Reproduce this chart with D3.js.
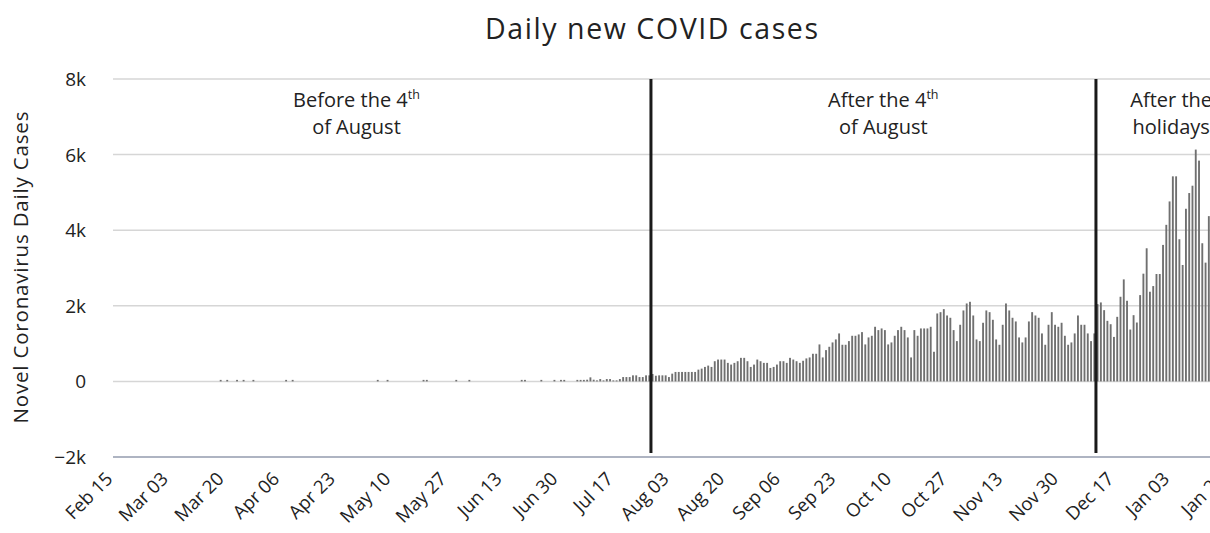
<!DOCTYPE html>
<html>
<head>
<meta charset="utf-8">
<script src="https://cdn.jsdelivr.net/npm/d3@7/dist/d3.min.js"></script>
<style>
  html, body { margin: 0; padding: 0; background: #fff; }
  svg { display: block; }
</style>
</head>
<body>
<svg id="chart" width="1210" height="533"></svg>
<script>
// ---------------- DATA ----------------
const startDate = "2020-02-15";      // first day of the daily series
const tickLabels = ["Feb 15","Mar 03","Mar 20","Apr 06","Apr 23","May 10","May 27","Jun 13","Jun 30","Jul 17",
                    "Aug 03","Aug 20","Sep 06","Sep 23","Oct 10","Oct 27","Nov 13","Nov 30","Dec 17","Jan 03","Jan 20"];
const tickDates = ["2020-02-15","2020-03-03","2020-03-20","2020-04-06","2020-04-23","2020-05-10","2020-05-27",
                   "2020-06-13","2020-06-30","2020-07-17","2020-08-03","2020-08-20","2020-09-06","2020-09-23",
                   "2020-10-10","2020-10-27","2020-11-13","2020-11-30","2020-12-17","2021-01-03","2021-01-20"];
const yTicks = [-2000, 0, 2000, 4000, 6000, 8000];
const yTickLabels = ["\u22122k", "0", "2k", "4k", "6k", "8k"];
const markerDates = ["2020-08-03", "2020-12-17"];
const annotationDates = ["2020-05-05", "2020-10-13", "2021-01-09"];
const annotationLine1 = [["Before the 4", "th"], ["After the 4", "th"], ["After the", ""]];
const annotationLine2 = ["of August", "of August", "holidays"];

// daily new cases, one value per day starting at startDate
const dailyCases = [
  // Feb 15 - Mar 23 (d0-37)
  0,0,0,0,0,0,0,0,0,0, 0,0,0,0,0,0,0,0,0,0, 0,0,0,0,0,0,0,0,0,0, 0,0,0,0,0,0,0,0,
  // d38-49
  40,0,40,0,0,40,0,40,0,0,40,0,
  // d50-69
  0,0,0,0,0,0,0,0,40,0,40,0,0,0,0,0,0,0,0,0,
  // d70-99
  0,0,0,0,0,0,0,0,0,0, 0,0,0,0,0,0,40,0,0,40, 0,0,0,0,0,0,0,0,0,0,
  // d100-149
  40,40,0,0,0,0,0,0,0,0, 40,0,0,0,40,0,0,0,0,0, 0,0,0,0,0,0,0,0,0,0,
  40,40,0,0,0,0,40,0,0,0, 40,0,40,40,0,0,0,40,40,40,
  // d150-169
  45,107,45,27,62,27,62,62,27,27, 62,115,115,115,160,160,115,115,160,160,
  // d170-215 (from Aug 03)
  196,150,160,160,160,115,205,250,250,250, 250,250,250,250,311,338,383,418,383,534,
  578,578,578,490,445,490,534,623,623,534, 383,445,578,534,490,490,356,383,445,534,
  534,490,623,578,534,490,
  // d216-305
  546,608,634,731,731,978,634,828,916,1031, 1110,1269,969,969,1066,1207,1207,1242,1304,978,
  1163,1207,1445,1357,1401,1357,978,1031,1207,1357, 1445,1357,1163,634,1357,1207,1401,1401,1401,1445,
  784,1797,1832,1912,1744,1683,1357,1066,1498,1877, 2062,2106,1744,1110,1066,1551,1877,1832,1630,1110,
  969,1498,2062,1877,1683,1586,1163,1031,1163,1586, 1832,1744,1683,1269,969,1498,1832,1498,1445,1551,
  1207,969,1031,1269,1744,1498,1498,1269,1066,1269,
  // d306-340 (from Dec 17)
  2044,2089,1885,1602,1513,1177,1708,2239,2699,2133, 1372,1752,1558,2283,2850,3522,2372,2522,2841,2841,
  3611,4142,4761,5425,5425,3761,3080,4567,4983,5177, 6133,5841,3655,3142,4372
];

// ---------------- LAYOUT ----------------
const FONT = "'Open Sans', 'Noto Sans', sans-serif";
const svg = d3.select("#chart");
const parse = d3.utcParse("%Y-%m-%d");
const start = parse(startDate);
const days = dailyCases.map((v, i) => ({ date: d3.utcDay.offset(start, i), value: v }));

const x = d3.scaleUtc()
  .domain([parse(tickDates[0]), parse(tickDates[tickDates.length - 1])])
  .range([94.7, 1207.2]);
const y = d3.scaleLinear().domain([-2000, 8000]).range([457, 79]);
const plotLeft = 113, plotRight = 1215;

// grid lines
svg.append("g").selectAll("line").data(yTicks).join("line")
  .attr("x1", plotLeft).attr("x2", plotRight)
  .attr("y1", d => y(d)).attr("y2", d => y(d))
  .attr("stroke", d => d === -2000 ? "#aeb4c2" : "#d6d6d6")
  .attr("stroke-width", d => d === -2000 ? 2 : 1.5);

// y tick labels
svg.append("g").selectAll("text").data(yTicks).join("text")
  .attr("x", 86).attr("y", d => y(d) + 7)
  .attr("text-anchor", "end")
  .attr("font-family", FONT).attr("font-size", 19).attr("fill", "#222")
  .text((d, i) => yTickLabels[i]);

// bars
const step = x(d3.utcDay.offset(start, 1)) - x(start);
svg.append("g").selectAll("rect").data(days.filter(d => d.value > 0)).join("rect")
  .attr("x", d => x(d.date) + 0.7)
  .attr("width", step - 1.4)
  .attr("y", d => y(d.value))
  .attr("height", d => Math.max(y(0) - y(d.value), 0))
  .attr("fill", "#707070");

// vertical marker lines
svg.append("g").selectAll("line").data(markerDates).join("line")
  .attr("x1", d => x(parse(d))).attr("x2", d => x(parse(d)))
  .attr("y1", y(8000)).attr("y2", 453)
  .attr("stroke", "#1a1a1a").attr("stroke-width", 3);

// x tick labels
svg.append("g").selectAll("text").data(tickDates).join("text")
  .attr("transform", d => `translate(${x(parse(d)) + 19},${480}) rotate(-45)`)
  .attr("text-anchor", "end")
  .attr("font-family", FONT).attr("font-size", 18.5).attr("fill", "#222")
  .text((d, i) => tickLabels[i]);

// annotations
const ann = svg.append("g").attr("font-family", FONT).attr("fill", "#222");
annotationDates.forEach((d, i) => {
  const cx = x(parse(d));
  const t1 = ann.append("text").attr("y", 107).attr("font-size", 20);
  t1.append("tspan").text(annotationLine1[i][0]);
  if (annotationLine1[i][1]) t1.append("tspan").attr("dy", -8).attr("font-size", 12.5).text(annotationLine1[i][1]);
  const w1 = t1.node().getComputedTextLength();
  t1.attr("x", cx - w1 / 2);
  ann.append("text").attr("x", cx).attr("y", 134).attr("text-anchor", "middle")
    .attr("font-size", 20).text(annotationLine2[i]);
});

// title
svg.append("text").attr("x", 651.5).attr("y", 38.5).attr("text-anchor", "middle")
  .attr("font-family", FONT).attr("font-size", 28.5).attr("fill", "#222")
  .attr("textLength", 333).attr("lengthAdjust", "spacing")
  .text("Daily new COVID cases");

// y axis title
svg.append("text").attr("transform", "translate(28,267.5) rotate(-90)")
  .attr("text-anchor", "middle")
  .attr("font-family", FONT).attr("font-size", 20.5).attr("fill", "#222")
  .attr("textLength", 312).attr("lengthAdjust", "spacing")
  .text("Novel Coronavirus Daily Cases");
</script>
</body>
</html>
